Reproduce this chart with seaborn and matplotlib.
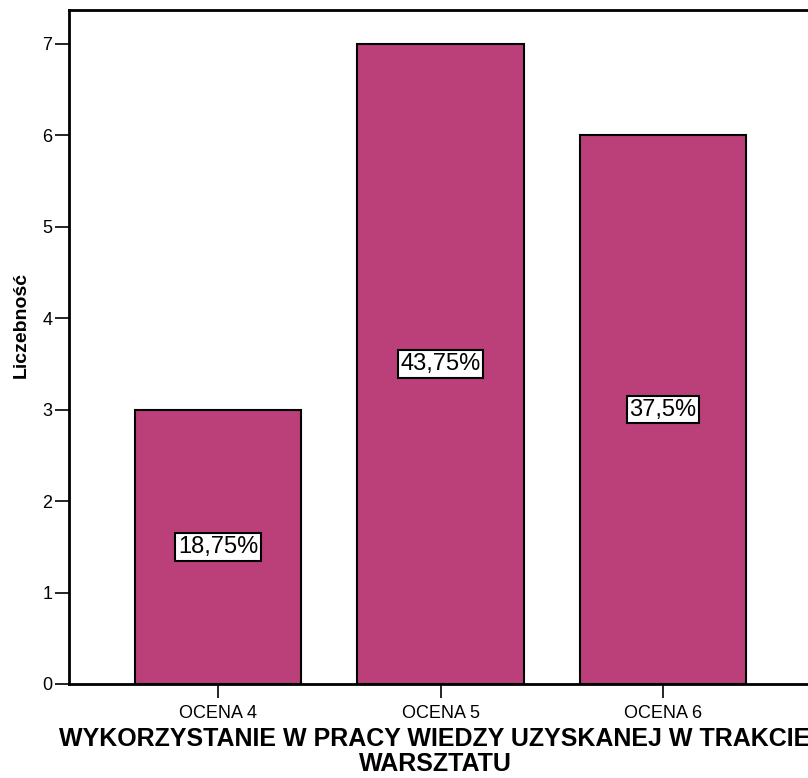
import matplotlib
matplotlib.use("Agg")
import matplotlib.pyplot as plt
import seaborn as sns
import pandas as pd

categories = ["OCENA 4", "OCENA 5", "OCENA 6"]
counts = [3, 7, 6]
percent_labels = ["18,75%", "43,75%", "37,5%"]
y_ticks = [0, 1, 2, 3, 4, 5, 6, 7]
x_title = "WYKORZYSTANIE W PRACY WIEDZY UZYSKANEJ W TRAKCIE\nWARSZTATU"
y_title = "Liczebność"

sns.set_style("white")
plt.rcParams["font.family"] = ["Liberation Sans", "DejaVu Sans"]
plt.rcParams["text.color"] = "black"
plt.rcParams["axes.labelcolor"] = "black"
plt.rcParams["xtick.color"] = "black"
plt.rcParams["ytick.color"] = "black"

df = pd.DataFrame({"cat": categories, "n": counts})

fig = plt.figure(figsize=(8.08, 7.78), dpi=100)
ax = fig.add_axes([69 / 808, 94 / 778, 743 / 808, 674 / 778])

sns.barplot(data=df, x="cat", y="n", ax=ax, color="#BB407A", saturation=1,
            width=0.75, edgecolor="black", linewidth=1.5)

for i, (v, lab) in enumerate(zip(counts, percent_labels)):
    ax.text(i, v / 2, lab, ha="center", va="center", fontsize=17,
            color="black",
            bbox=dict(boxstyle="square,pad=0.12", facecolor="white",
                      edgecolor="black", linewidth=1.5))

ax.set_xlim(-0.67, 2.67)
ax.set_ylim(0, 7.37)
ax.set_yticks(y_ticks)
ax.set_yticklabels([str(t) for t in y_ticks])

ax.tick_params(axis="both", which="both", direction="out", length=10,
               width=1.2, colors="black", labelsize=13, pad=2,
               bottom=True, left=True)
ax.tick_params(axis="x", pad=5)

for s in ["left", "bottom", "top"]:
    ax.spines[s].set_visible(True)
    ax.spines[s].set_color("black")
    ax.spines[s].set_linewidth(2)
ax.spines["right"].set_visible(False)

ax.set_xlabel(x_title, fontsize=18, fontweight="bold", linespacing=1.05)
ax.xaxis.set_label_coords((435 - 69) / 743, -0.064)
ax.set_ylabel(y_title, fontsize=14, fontweight="bold")
ax.yaxis.set_label_coords((30 - 69) / 743, (684 - 325) / 674)

fig.savefig("out.png", dpi=100)
